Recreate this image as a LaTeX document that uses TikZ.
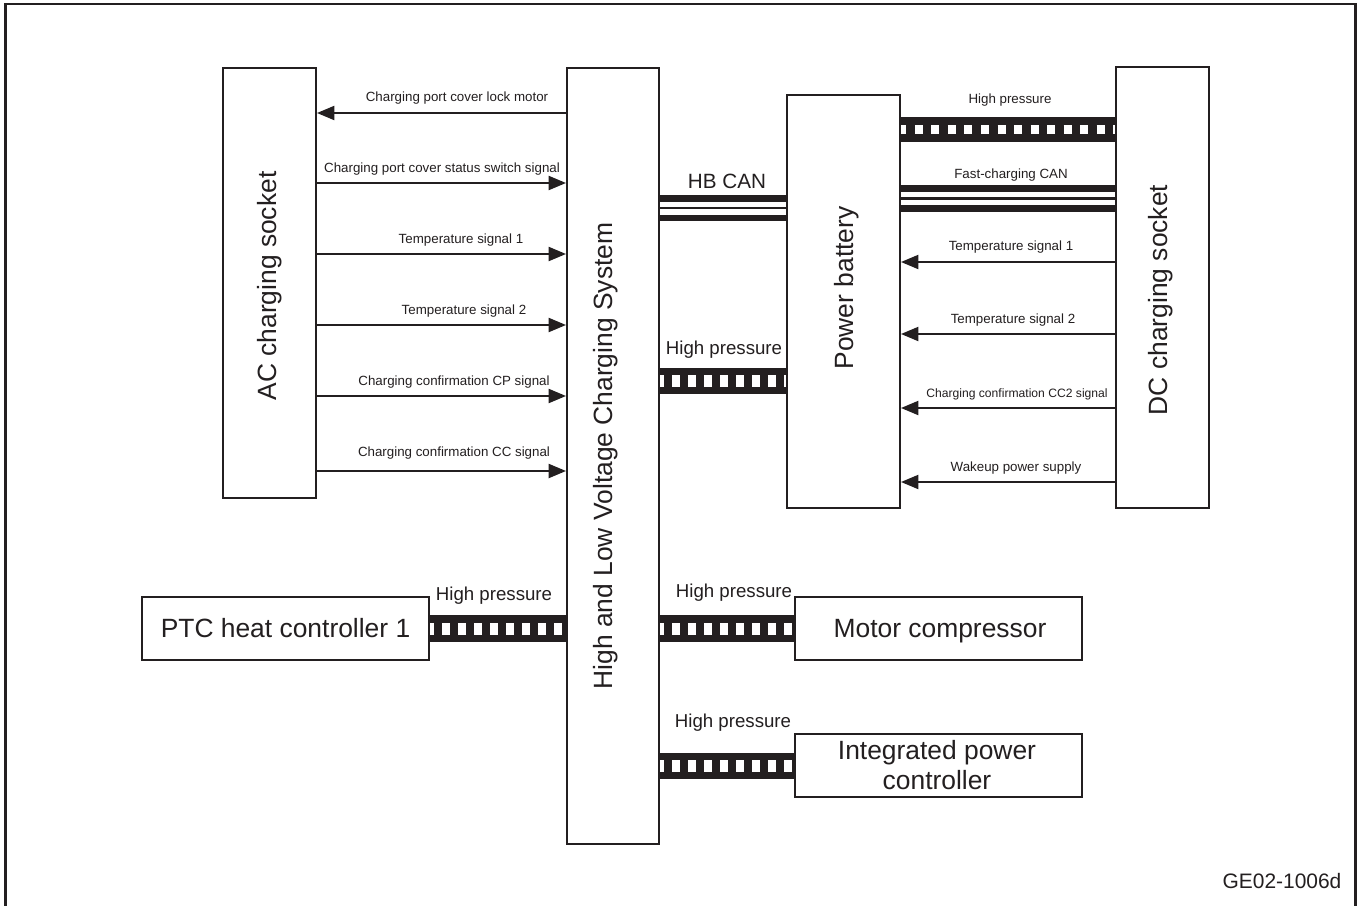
\documentclass[tikz,border=0pt]{standalone}
\usepackage{fontspec}
\setmainfont{Liberation Sans}
\usetikzlibrary{arrows.meta}
\definecolor{ink}{HTML}{231F20}

\begin{document}
\begin{tikzpicture}[x=0.75pt,y=-0.75pt,
  box/.style 2 args={draw=ink, line width=1.5pt, minimum width=#1*0.75pt,
    minimum height=#2*0.75pt, inner sep=0pt, anchor=center},
  sig/.style={draw=ink, line width=1.5pt, -{Triangle[length=13pt,width=10.5pt]}},
  small/.style={font=\fontsize{10}{12}\selectfont, text=ink, inner sep=0pt},
  mid/.style={font=\fontsize{14}{16}\selectfont, text=ink, inner sep=0pt},
  big/.style={font=\fontsize{19.8}{23}\selectfont, text=ink, inner sep=0pt},
  bus/.style={draw=ink, line width=20pt,
    postaction={draw=white, line width=9pt, dash pattern=on 6pt off 6pt, dash phase=3pt}},
  topbus/.style={draw=ink, line width=18.5pt,
    postaction={draw=white, line width=6.5pt, dash pattern=on 6pt off 6.4pt, dash phase=2pt}},
  canthick/.style={draw=ink, line width=5pt},
  canthin/.style={draw=ink, line width=1.7pt}]
\useasboundingbox (0,0) rectangle (1364,906);
\fill[white] (0,0) rectangle (1364,906);
\begin{scope}
  \clip (0,0) rectangle (1364,906);
  \draw[ink, line width=2.2pt] (5.5,4) rectangle (1355.5,940);
\end{scope}

% blocks
\node[box={93}{430}] (ac) at (269.5,283) {};
\node[box={92}{776}] (sys) at (613,456) {};
\node[box={113}{413}] (bat) at (843.5,301.5) {};
\node[box={93}{441}] (dc) at (1162.5,287.5) {};
\node[box={287}{63}] (ptc) at (285.5,628.5) {};
\node[box={287}{63}] (mc) at (938.5,628.5) {};
\node[box={287}{63}] (ipc) at (938.5,765.5) {};

% block titles
\node[big, rotate=90] (tac) at (269.5,286) {AC charging socket};
\node[big, rotate=90] (tsys) at (606,456) {High and Low Voltage Charging System};
\node[big, rotate=90] (tbat) at (847,288) {Power battery};
\node[big, rotate=90] (tdc) at (1161,300) {DC charging socket};
\node[big] (tptc) at (285.5,628) {PTC heat controller 1};
\node[big] (tmc) at (940,631) {Motor compressor};
\node[big, align=center, execute at begin node=\setlength{\baselineskip}{23pt}] (tipc) at (937,765) {Integrated power\\controller};

% signal lines, AC socket side
\draw[sig] (sys.west |- 0,113) -- (ac.east |- 0,113);
\draw[sig] (ac.east |- 0,183) -- (sys.west |- 0,183);
\draw[sig] (ac.east |- 0,254) -- (sys.west |- 0,254);
\draw[sig] (ac.east |- 0,325) -- (sys.west |- 0,325);
\draw[sig] (ac.east |- 0,396) -- (sys.west |- 0,396);
\draw[sig] (ac.east |- 0,471) -- (sys.west |- 0,471);
\node[small] (a1) at (457,98) {Charging port cover lock motor};
\node[small] (a2) at (442,169) {Charging port cover status switch signal};
\node[small] (a3) at (461,240) {Temperature signal 1};
\node[small] (a4) at (464,311) {Temperature signal 2};
\node[small] (a5) at (454,382) {Charging confirmation CP signal};
\node[small] (a6) at (454,453) {Charging confirmation CC signal};

% signal lines, DC socket side
\draw[sig] (dc.west |- 0,262) -- (bat.east |- 0,262);
\draw[sig] (dc.west |- 0,334) -- (bat.east |- 0,334);
\draw[sig] (dc.west |- 0,408) -- (bat.east |- 0,408);
\draw[sig] (dc.west |- 0,482) -- (bat.east |- 0,482);
\node[small] (d1) at (1011,247) {Temperature signal 1};
\node[small] (d2) at (1013,320) {Temperature signal 2};
\node[small, font=\fontsize{9.1}{11}\selectfont] (d3) at (1017,394) {Charging confirmation CC2 signal};
\node[small] (d4) at (1016,468) {Wakeup power supply};

% DC high voltage and fast-charging CAN
\draw[topbus] (bat.east |- 0,129.5) -- (dc.west |- 0,129.5);
\node[small] (hpdc) at (1010,100) {High pressure};
\draw[canthick] (bat.east |- 0,188.3) -- (dc.west |- 0,188.3);
\draw[canthin] (bat.east |- 0,198.5) -- (dc.west |- 0,198.5);
\draw[canthick] (bat.east |- 0,208.3) -- (dc.west |- 0,208.3);
\node[small] (fcan) at (1011,175) {Fast-charging CAN};

% HB CAN
\draw[canthick] (sys.east |- 0,198.3) -- (bat.west |- 0,198.3);
\draw[canthin] (sys.east |- 0,208) -- (bat.west |- 0,208);
\draw[canthick] (sys.east |- 0,218) -- (bat.west |- 0,218);
\node[font=\fontsize{15.5}{18}\selectfont, text=ink, inner sep=0pt] (hbcan) at (727,181) {HB CAN};

% high voltage buses
\draw[bus] (sys.east |- 0,381) -- (bat.west |- 0,381);
\node[mid] (hp1) at (724,350) {High pressure};
\draw[bus] (ptc.east |- 0,628.5) -- (sys.west |- 0,628.5);
\node[mid] (hp2) at (494,596) {High pressure};
\draw[bus] (sys.east |- 0,628.5) -- (mc.west |- 0,628.5);
\node[mid] (hp3) at (734,593) {High pressure};
\draw[bus] (sys.east |- 0,766) -- (ipc.west |- 0,766);
\node[mid] (hp4) at (733,723) {High pressure};

\node[font=\fontsize{15.7}{18}\selectfont, text=ink, inner sep=0pt] (code) at (1282,881) {GE02-1006d};
\end{tikzpicture}
\end{document}
